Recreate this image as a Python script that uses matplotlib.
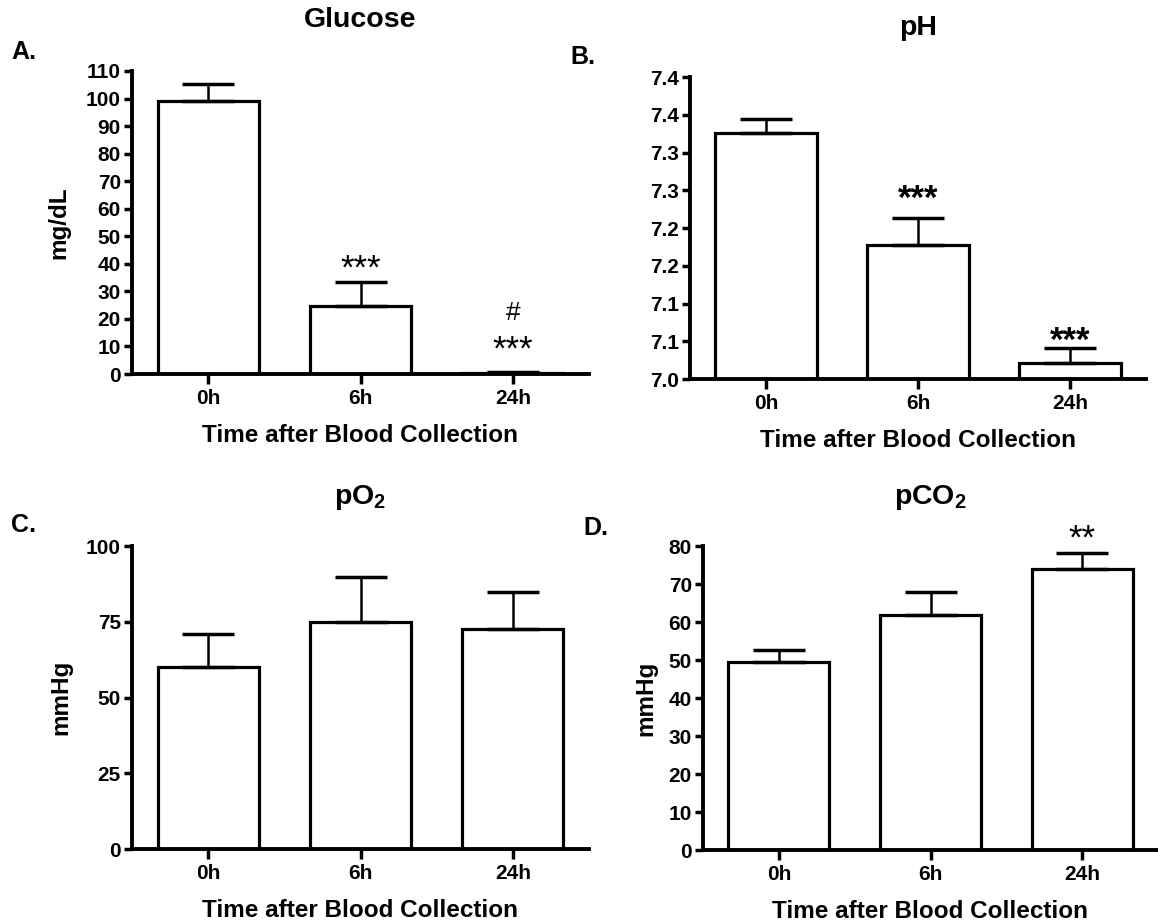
import numpy as np
import matplotlib; matplotlib.use('Agg')
import matplotlib.pyplot as plt

plt.rcParams.update({'font.family': 'Liberation Sans', 'font.weight': 'bold',
                     'axes.titleweight': 'bold', 'axes.labelweight': 'bold',
                     'mathtext.fontset': 'custom', 'mathtext.rm': 'Liberation Sans:bold',
                     'mathtext.default': 'regular'})

W, H = 1158, 922
times = ['0h', '6h', '24h']
glu = [99.1, 24.8, 0.5]
glu_err = [6.2, 8.6, 0.3]
ph = [7.326, 7.178, 7.021]
ph_err = [0.019, 0.035, 0.020]
ph_ticks = [7.0, 7.05, 7.1, 7.15, 7.2, 7.25, 7.3, 7.35, 7.4]
ph_labels = ['7.0', '7.1', '7.1', '7.2', '7.2', '7.3', '7.3', '7.4', '7.4']
po2 = [60.2, 74.8, 72.5]
po2_err = [10.7, 15.1, 12.4]
pco2 = [49.5, 61.8, 73.9]
pco2_err = [3.2, 6.2, 4.2]

fig = plt.figure(figsize=(W/100, H/100), dpi=100)

def px_axes(l, r, t, b):
    return fig.add_axes([l/W, 1-b/H, (r-l)/W, (b-t)/H])

def panel(ax, vals, errs, base=0.0, ylim=None, yticks=None, ylabels=None):
    x = np.arange(len(times))
    h = np.array(vals) - base
    ax.bar(x, h, bottom=base, width=0.665, color='white', edgecolor='black', lw=2.3, zorder=2)
    ax.errorbar(x, vals, yerr=[np.zeros(len(vals)), errs], fmt='none', ecolor='black',
                elinewidth=1.8, capsize=19, capthick=2.5, zorder=3)
    ax.set_xlim(-0.5, 2.5); ax.set_ylim(*ylim)
    ax.set_xticks(x); ax.set_xticklabels(times)
    if yticks is not None:
        ax.set_yticks(yticks)
        if ylabels is not None: ax.set_yticklabels(ylabels)
    for s in ['top', 'right']: ax.spines[s].set_visible(False)
    for s in ['left', 'bottom']: ax.spines[s].set_linewidth(2.8)
    ax.tick_params(direction='out', length=6, width=2.5, labelsize=15, pad=2)
    ax.tick_params(axis='x', length=7, pad=4)
    ax.set_xlabel('Time after Blood Collection', fontsize=17.5, labelpad=11)

# A. Glucose
axA = px_axes(132, 589, 71, 374)
panel(axA, glu, glu_err, ylim=(0, 110), yticks=np.arange(0, 111, 10))
axA.set_ylabel('mg/dL', fontsize=17.5); axA.yaxis.set_label_coords(-0.135, 0.5)
axA.set_title('Glucose', fontsize=20.5, pad=32)
axA.text(1, 38.0, '***', ha='center', va='center', fontsize=25, fontweight='normal')
axA.text(2, 22.1, '#', ha='center', va='center', fontsize=19, fontweight='normal')
axA.text(2, 8.6, '***', ha='center', va='center', fontsize=25, fontweight='normal')

# B. pH
axB = px_axes(690, 1146, 77, 379)
panel(axB, ph, ph_err, base=7.0, ylim=(7.0, 7.4), yticks=ph_ticks, ylabels=ph_labels)
axB.set_title('pH', fontsize=20.5, pad=30)
axB.text(1, 7.238, '***', ha='center', va='center', fontsize=25)
axB.text(2, 7.050, '***', ha='center', va='center', fontsize=25)

# C. pO2
axC = px_axes(132, 589, 546, 849)
panel(axC, po2, po2_err, ylim=(0, 100), yticks=[0, 25, 50, 75, 100])
axC.set_ylabel('mmHg', fontsize=17.5); axC.yaxis.set_label_coords(-0.13, 0.5)
axC.set_title('pO$_2$', fontsize=20.5, pad=30)

# D. pCO2
axD = px_axes(703, 1158, 546, 850)
panel(axD, pco2, pco2_err, ylim=(0, 80), yticks=np.arange(0, 81, 10))
axD.set_ylabel('mmHg', fontsize=17.5); axD.yaxis.set_label_coords(-0.10, 0.5)
axD.set_title('pCO$_2$', fontsize=20.5, pad=30)
axD.text(2, 81.8, '**', ha='center', va='center', fontsize=25, fontweight='normal', clip_on=False)

for lab, xp, yp in [('A.', 11, 52), ('B.', 570, 57), ('C.', 11, 525), ('D.', 583, 528)]:
    fig.text(xp/W, 1-yp/H, lab, fontsize=18, ha='left', va='center')

fig.savefig('out.png', dpi=100)
